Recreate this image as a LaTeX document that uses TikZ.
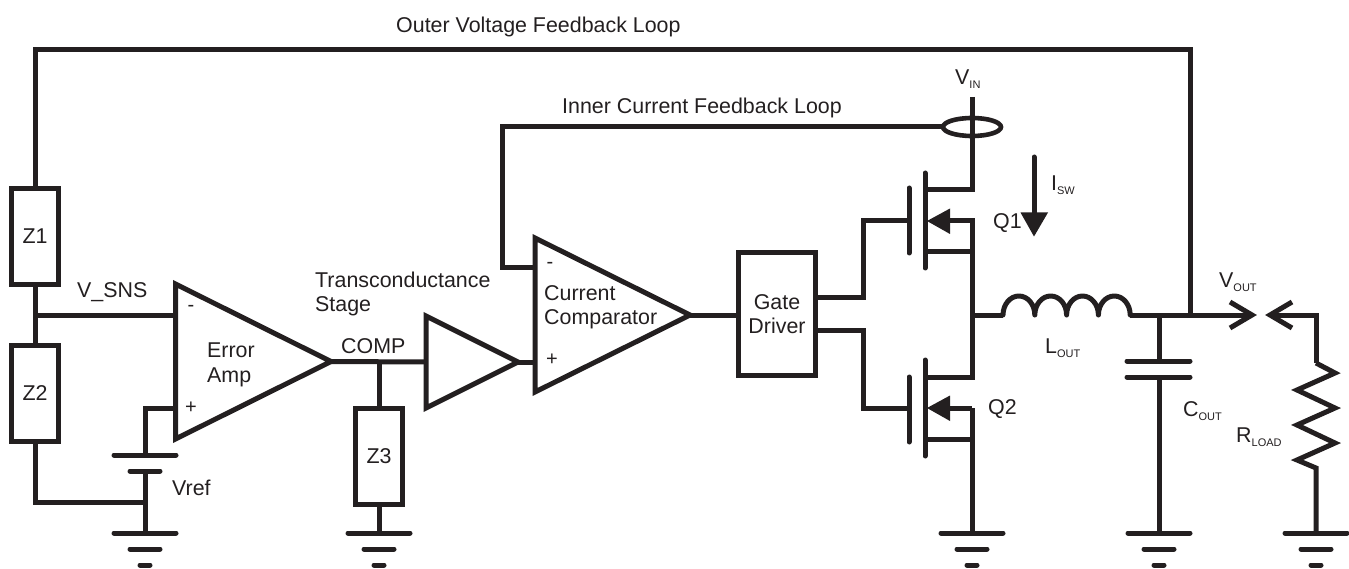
\documentclass[tikz,border=0pt]{standalone}
\usepackage{fontspec}
\setmainfont{Liberation Sans}
\usetikzlibrary{calc}
\definecolor{ink}{HTML}{231F20}
\newcommand{\sbs}[1]{\raisebox{-4pt}{\fontsize{11}{12}\selectfont #1}}
\tikzset{
  wire/.style={draw=ink,line width=5pt,line join=miter},
  plate/.style={draw=ink,line width=5pt,line cap=round},
  zbox/.style={draw=ink,line width=5pt,fill=white,minimum width=47pt,minimum height=96pt,inner sep=0pt,outer sep=0pt,text=ink,font=\fontsize{21.4}{24.5}\selectfont},
  lbl/.style={text=ink,inner sep=0pt,anchor=west,font=\fontsize{21.4}{24.5}\selectfont,align=left},
  sign/.style={text=ink,inner sep=0pt,font=\fontsize{20}{22}\selectfont},
  head/.style={fill=ink,draw=none},
  gnd/.pic={
    \draw[plate] (-31,0) -- (31,0);
    \draw[plate] (-15,16) -- (15,16);
    \draw[plate] (-5,32) -- (5,32);
  },
}
\begin{document}
\begin{tikzpicture}[x=1pt,y=-1pt]
\useasboundingbox (0,0) rectangle (1349,569);
% named points
\coordinate (tl) at (35,50);
\coordinate (tr) at (1190,50);
\coordinate (sns) at (35,315);
\coordinate (eaM) at (175.5,315);
\coordinate (eaP) at (175.5,408);
\coordinate (eaO) at (331,361.5);
\coordinate (eaA) at (175.5,284);
\coordinate (eaB) at (175.5,439);
\coordinate (tsA) at (426,316);
\coordinate (tsB) at (426,408);
\coordinate (tsI) at (426,362);
\coordinate (tsO) at (518,362);
\coordinate (ccA) at (535,238);
\coordinate (ccB) at (535,392);
\coordinate (ccM) at (535,268);
\coordinate (ccP) at (535,362);
\coordinate (ccO) at (690,315);
\coordinate (compT) at (379,362);
\coordinate (batT) at (145,455);
\coordinate (batB) at (145,471);
\coordinate (g1) at (145,533);
\coordinate (g1j) at (145,502);
\coordinate (g2) at (379,533);
\coordinate (g3) at (972,533);
\coordinate (g4) at (1159,533);
\coordinate (g5) at (1316,533);
\coordinate (vin) at (972,97);
\coordinate (sw) at (972,315);
\coordinate (lA) at (1003,315);
\coordinate (lB) at (1130,315);
\coordinate (cj) at (1159,315);
\coordinate (oj) at (1190,315);
\coordinate (capT) at (1159,361);
\coordinate (capB) at (1159,377);
\coordinate (arrL) at (1252,315);
\coordinate (arrR) at (1270,315);
\coordinate (rT) at (1316,363);
\coordinate (rB) at (1316,468);
\coordinate (fbE) at (943,127);
% impedance and driver boxes
\node[zbox] (Z1) at (35,236.5) {Z1};
\node[zbox] (Z2) at (35,393) {Z2};
\node[zbox] (Z3) at (379,456) {Z3};
\node[zbox,minimum width=77pt,minimum height=122pt,align=center] (GD) at (777,314) {Gate\\Driver};
% outer loop and divider
\draw[wire] (Z1.north) -- (tl) -- (tr) -- (oj);
\draw[wire] (Z1.south) -- (Z2.north);
\draw[wire] (sns) -- (eaM);
\draw[wire] (Z2.south) |- (g1j);
% amplifiers
\draw[wire] (eaA) -- (eaO) -- (eaB) -- cycle;
\draw[wire] (tsA) -- (tsO) -- (tsB) -- cycle;
\draw[wire] (ccA) -- (ccO) -- (ccB) -- cycle;
% reference
\draw[wire] (eaP) -| (batT);
\draw[plate] ($(batT)+(-31,0)$) -- ($(batT)+(31,0)$);
\draw[plate] ($(batB)+(-15,0)$) -- ($(batB)+(15,0)$);
\draw[wire] (batB) -- (g1);
\pic at (g1) {gnd};
% signal path
\draw[wire] (eaO) -- (tsI);
\draw[wire] (compT) -- (Z3.north);
\draw[wire] (Z3.south) -- (g2);
\pic at (g2) {gnd};
\draw[wire] (tsO) -- (ccP);
\draw[wire] (ccO) -- (GD.west |- ccO);
% inner loop
\draw[wire] (ccM) -- (502,268) -- (502,127) -- (fbE);
\draw[draw=ink,line width=4.6pt] (972,127) ellipse [x radius=29,y radius=9];
% Q1
\draw[plate] (925,173) -- (925,268);
\draw[plate] (909,188) -- (909,253);
\draw[wire] (vin) -- (972,190) -- (925,190);
\draw[wire] (925,252) -- (972,252);
\draw[wire] (972,252) -- (972,221) -- (945,221);
\path[head] (927,221) -- (950,208.5) -- (950,234) -- cycle;
\draw[wire] (GD.east |- 0,298) -- (863,298) -- (863,221) -- (909,221);
% Q2
\draw[plate] (925,360) -- (925,456);
\draw[plate] (909,377) -- (909,442);
\draw[wire] (972,252) -- (972,377) -- (925,377);
\draw[wire] (925,439) -- (972,439);
\draw[wire] (972,408) -- (945,408);
\draw[wire] (972,408) -- (g3);
\path[head] (927,408) -- (950,395.5) -- (950,421) -- cycle;
\draw[wire] (GD.east |- 0,330) -- (863,330) -- (863,408) -- (909,408);
\pic at (g3) {gnd};
% inductor
\draw[wire] (sw) -- (lA);
\draw[wire,line cap=round,line join=round] (lA) arc[start angle=180,end angle=360,x radius=15.9,y radius=19]
  arc[start angle=180,end angle=360,x radius=15.9,y radius=19]
  arc[start angle=180,end angle=360,x radius=15.9,y radius=19]
  arc[start angle=180,end angle=360,x radius=15.9,y radius=19];
\draw[wire] (lB) -- (arrL);
% capacitor
\draw[wire] (cj) -- (capT);
\draw[plate] ($(capT)+(-32,0)$) -- ($(capT)+(31,0)$);
\draw[plate] ($(capB)+(-32,0)$) -- ($(capB)+(31,0)$);
\draw[wire] (capB) -- (g4);
\pic at (g4) {gnd};
% output open terminals
\draw[wire] (1230,302) -- (arrL) -- (1230,328);
\draw[wire] (1292,302) -- (arrR) -- (1292,328);
\draw[wire] (arrR) -- (1316,315) -- (rT);
% load
\draw[wire] (rT) -- (1335,373) -- (1297,390) -- (1335,408) -- (1297,425) -- (1335,443) -- (1297,460) -- (rB) -- (g5);
\pic at (g5) {gnd};
% labels
\node[lbl] (t1) at (396,27) {Outer Voltage Feedback Loop};
\node[lbl] (t2) at (562,108) {Inner Current Feedback Loop};
\node[lbl] (t3) at (77,292) {V\_SNS};
\node[lbl] (t4) at (207,365) {Error\\Amp};
\node[lbl] (t5) at (315,294) {Transconductance\\Stage};
\node[lbl] (t6) at (341,346) {COMP};
\node[lbl] (t7) at (544,307) {Current\\Comparator};
\node[lbl] (t8) at (172,488) {Vref};
\node[lbl] (t9) at (993,223) {Q1};
\node[lbl] (t10) at (988,409) {Q2};
\node[lbl] (t11) at (955,79) {V\sbs{IN}};
\node[lbl] (t12) at (1051,185) {I\sbs{SW}};
\node[lbl] (t13) at (1045,348) {L\sbs{OUT}};
\node[lbl] (t14) at (1183,411) {C\sbs{OUT}};
\node[lbl] (t15) at (1236,437) {R\sbs{LOAD}};
\node[lbl] (t16) at (1219,282) {V\sbs{OUT}};
\node[sign] (s1) at (191,308.5) {-};
\node[sign] (s2) at (191,408) {+};
\node[sign] (s3) at (550,265) {-};
\node[sign] (s4) at (552,360) {+};
% current arrow
\draw[plate] (1034,157) -- (1034,220);
\path[head] (1034,236.5) -- (1020.5,212.5) -- (1048,212.5) -- cycle;
\end{tikzpicture}
\end{document}
